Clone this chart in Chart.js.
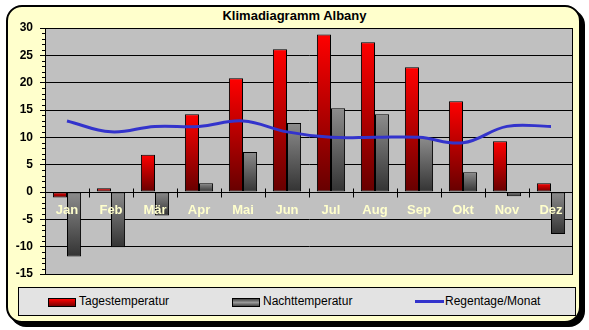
<!DOCTYPE html>
<html>
<head>
<meta charset="utf-8">
<script src="https://cdn.jsdelivr.net/npm/chart.js@4.4.0/dist/chart.umd.min.js"></script>
<style>
  html, body { margin: 0; padding: 0; background: #ffffff; }
  body { width: 589px; height: 330px; position: relative; overflow: hidden;
         font-family: "Liberation Sans", Arial, sans-serif; }
  #frame { position: absolute; left: 6px; top: 5px; width: 571px; height: 314px;
           background: #ffffcc; border: 2px solid #000; border-radius: 16px;
           box-shadow: 4px 4px 0 #000; }
  #title { position: absolute; left: 0; width: 589px; top: 8px; text-align: center;
           font-weight: bold; font-size: 13px; color: #000; }
  #legend { position: absolute; left: 18px; top: 287px; width: 556px; height: 27px;
            background: #e3e3e3; border: 1px solid #000; }
  .item { position: absolute; top: 0; height: 27px; line-height: 27px; font-size: 12px; color: #000; white-space: nowrap; }
  .swatch { position: absolute; top: 10px; width: 26px; height: 7px; border: 1px solid #000; }
  .dash { position: absolute; top: 12px; width: 29px; height: 3px; background: #3333cc; }
  .item span { position: absolute; top: 0; }
  #c { position: absolute; left: 0; top: 0; }
</style>
</head>
<body>
<div id="frame"></div>
<div id="title">Klimadiagramm Albany</div>
<div id="legend">
  <div class="item" style="left:29px"><div class="swatch" style="left:0;background:linear-gradient(#ff0000,#7a0000)"></div><span style="left:31px">Tagestemperatur</span></div>
  <div class="item" style="left:213px"><div class="swatch" style="left:0;background:linear-gradient(#444,#999 50%,#444)"></div><span style="left:31px">Nachttemperatur</span></div>
  <div class="item" style="left:396px"><div class="dash" style="left:0"></div><span style="left:30px">Regentage/Monat</span></div>
</div>
<canvas id="c" width="589" height="330"></canvas>
<script>
// Klimadaten Albany
const months = ['Jan', 'Feb', 'Mär', 'Apr', 'Mai', 'Jun', 'Jul', 'Aug', 'Sep', 'Okt', 'Nov', 'Dez'];
const dayTemp = [-1.0, 0.7, 6.8, 14.2, 20.8, 26.1, 28.8, 27.4, 22.8, 16.6, 9.3, 1.6];
const nightTemp = [-11.8, -10.1, -4.3, 1.6, 7.3, 12.6, 15.3, 14.2, 10.0, 3.6, -0.8, -7.7];
const rainDays = [13, 11, 12, 12, 13, 11, 10, 10, 10, 9, 12, 12];
const yMin = -15, yMax = 30, yStep = 5;

const FONT = '"Liberation Sans", Arial, sans-serif';

// vertical gradient running from the top of each bar to its bottom
function barFill(top, bottom) {
    return function(ctx) {
        const chart = ctx.chart;
        const y = chart.scales && chart.scales.y;
        if (!y || ctx.type !== 'data') return top;
        const v = ctx.raw;
        const y1 = y.getPixelForValue(Math.max(v, 0));
        const y2 = y.getPixelForValue(Math.min(v, 0));
        if (!isFinite(y1) || !isFinite(y2) || y2 - y1 < 1) return top;
        const g = chart.ctx.createLinearGradient(0, y1, 0, y2);
        g.addColorStop(0, top);
        g.addColorStop(1, bottom);
        return g;
    };
}

// grey plot area with black frame
const plotBackground = {
    id: 'plotBackground',
    beforeDraw(chart) {
        const a = chart.chartArea, c = chart.ctx;
        c.save();
        c.fillStyle = '#c0c0c0';
        c.fillRect(a.left, a.top, a.right - a.left, a.bottom - a.top);
        c.restore();
    },
    afterDraw(chart) {
        const a = chart.chartArea, c = chart.ctx;
        c.save();
        c.strokeStyle = '#000';
        c.lineWidth = 1;
        c.strokeRect(a.left + 0.5, a.top + 0.5, a.right - a.left - 1, a.bottom - a.top);
        c.restore();
    }
};

// minor ticks on the value axis and category separators on the zero line
const axisMarks = {
    id: 'axisMarks',
    afterDatasetsDraw(chart) {
        const c = chart.ctx, ys = chart.scales.y, xs = chart.scales.x;
        const left = chart.chartArea.left;
        c.save();
        c.strokeStyle = '#000';
        c.lineWidth = 1;
        c.beginPath();
        for (let v = yMin; v <= yMax; v++) {
            if (v % yStep === 0) continue;
            const py = Math.round(ys.getPixelForValue(v)) + 0.5;
            c.moveTo(left - 3, py);
            c.lineTo(left, py);
        }
        const y0 = Math.round(ys.getPixelForValue(0)) + 0.5;
        for (let i = 1; i < months.length; i++) {
            const px = Math.round((xs.getPixelForValue(i - 1) + xs.getPixelForValue(i)) / 2) + 0.5;
            c.moveTo(px, y0 - 4);
            c.lineTo(px, y0 + 5);
        }
        c.stroke();
        c.restore();
    }
};

new Chart(document.getElementById('c'), {
    type: 'bar',
    data: {
        labels: months,
        datasets: [
            {
                type: 'line',
                label: 'Regentage/Monat',
                data: rainDays,
                borderColor: '#3333cc',
                borderWidth: 3,
                pointRadius: 0,
                tension: 0.4,
                fill: false,
                order: 0
            },
            {
                label: 'Tagestemperatur',
                data: dayTemp,
                backgroundColor: barFill('#ff0000', '#660000'),
                borderColor: '#000',
                borderWidth: 1,
                borderSkipped: false,
                categoryPercentage: 0.64,
                barPercentage: 1,
                order: 1
            },
            {
                label: 'Nachttemperatur',
                data: nightTemp,
                backgroundColor: barFill('#8c8c8c', '#333333'),
                borderColor: '#000',
                borderWidth: 1,
                borderSkipped: false,
                categoryPercentage: 0.64,
                barPercentage: 1,
                order: 1
            }
        ]
    },
    options: {
        responsive: false,
        animation: false,
        layout: { padding: { left: 0, top: 28, right: 16, bottom: 56 } },
        plugins: {
            legend: { display: false },
            title: { display: false },
            tooltip: { enabled: false }
        },
        scales: {
            x: {
                position: { y: 0 },
                offset: true,
                grid: { drawOnChartArea: false, drawTicks: false },
                border: { display: false },
                ticks: {
                    z: 1,
                    color: '#ffffcc',
                    font: { family: FONT, size: 13, weight: 'bold' },
                    padding: 11,
                    maxRotation: 0,
                    autoSkip: false
                }
            },
            y: {
                min: yMin,
                max: yMax,
                afterFit(scale) { scale.width = 45; },
                ticks: {
                    stepSize: yStep,
                    color: '#000',
                    font: { family: FONT, size: 12, weight: 'bold' },
                    padding: 7
                },
                grid: { color: '#000', lineWidth: 1, tickLength: 5 },
                border: { color: '#000' }
            }
        }
    },
    plugins: [plotBackground, axisMarks]
});
</script>
</body>
</html>
